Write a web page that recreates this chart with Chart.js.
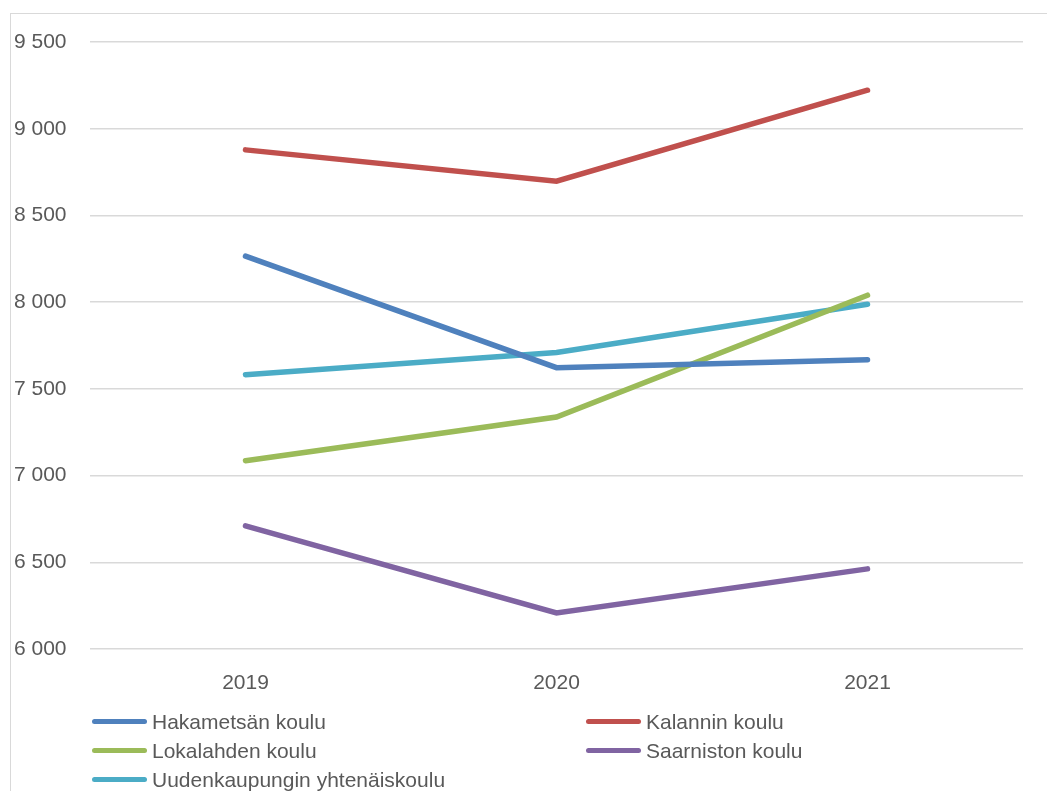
<!doctype html>
<html lang="fi">
<head>
    <meta charset="UTF-8">
    <title>Koulut 2019–2021</title>
    <script src="https://cdn.jsdelivr.net/npm/chart.js"></script>
    <style>
        html, body { margin: 0; padding: 0; background: #fff; overflow: hidden; }
        body { width: 1047px; height: 791px; position: relative; font-family: "Liberation Sans", Arial, sans-serif; }
        .kehys { position: absolute; left: 10px; top: 13px; width: 1100px; height: 900px; border: 1.5px solid #d9d9d9; box-sizing: border-box; }
        .graafi { position: absolute; left: 0; top: 0; width: 1047px; height: 791px; }
        #selite { position: absolute; left: 92px; top: 707px; display: grid; grid-template-columns: 494px auto; grid-auto-rows: 29px; }
        #selite div { display: flex; align-items: center; font-size: 21px; color: #595959; white-space: nowrap; }
        #selite span.viiva { display: inline-block; width: 55px; height: 5px; border-radius: 3px; margin-right: 5px; }
    </style>
</head>
<body>
    <div class="kehys"></div>
    <div class="graafi">
        <canvas id="grafiikka" width="1047" height="791"></canvas>
    </div>
    <div id="selite"></div>

    <script>
        const vuodet = ['2019', '2020', '2021'];

        const hakametsa = [8265, 7622, 7668];
        const kalanti = [8878, 8697, 9222];
        const lokalahti = [7086, 7338, 8040];
        const saarnisto = [6710, 6208, 6462];
        const uusikaupunki = [7582, 7710, 7988];

        const yTicks = [6000, 6500, 7000, 7500, 8000, 8500, 9000, 9500];

        const sarjat = [
            { label: 'Hakametsän koulu', data: hakametsa, color: '#4f81bd' },
            { label: 'Kalannin koulu', data: kalanti, color: '#c0504d' },
            { label: 'Lokalahden koulu', data: lokalahti, color: '#9bbb59' },
            { label: 'Saarniston koulu', data: saarnisto, color: '#8064a2' },
            { label: 'Uudenkaupungin yhtenäiskoulu', data: uusikaupunki, color: '#4bacc6' }
        ];

        const fmt = v => String(v).replace(/\B(?=(\d{3})+(?!\d))/g, ' ');

        const ctx = document.getElementById('grafiikka');

        let grafiikka = new Chart(ctx, {
            type: 'line',
            data: {
                labels: vuodet,
                datasets: sarjat.map(s => ({
                    label: s.label,
                    data: s.data,
                    borderColor: s.color,
                    backgroundColor: s.color,
                    borderWidth: 5.5,
                    borderCapStyle: 'round',
                    pointRadius: 0,
                    tension: 0,
                    fill: false
                }))
            },
            options: {
                responsive: false,
                animation: false,
                devicePixelRatio: 1,
                layout: {
                    padding: { left: 14, top: 42, right: 24, bottom: 0 }
                },
                plugins: {
                    legend: { display: false },
                    tooltip: { enabled: false }
                },
                scales: {
                    x: {
                        offset: true,
                        grid: { display: false, drawTicks: false },
                        border: { display: false },
                        ticks: {
                            color: '#595959',
                            padding: 22,
                            font: { family: '"Liberation Sans", Arial, sans-serif', size: 21 }
                        },
                        afterFit: scale => { scale.height = 142; }
                    },
                    y: {
                        min: 6000,
                        max: 9500,
                        afterBuildTicks: scale => { scale.ticks = yTicks.map(v => ({ value: v })); },
                        grid: { color: '#d9d9d9', lineWidth: 1.5, drawTicks: false },
                        border: { display: false },
                        ticks: {
                            color: '#595959',
                            crossAlign: 'far',
                            font: { family: '"Liberation Sans", Arial, sans-serif', size: 21 },
                            callback: v => fmt(v)
                        },
                        afterFit: scale => { scale.width = 76; }
                    }
                }
            }
        });

        // selite datasettien pohjalta
        const selite = document.getElementById('selite');
        grafiikka.data.datasets.forEach(ds => {
            const rivi = document.createElement('div');
            const viiva = document.createElement('span');
            viiva.className = 'viiva';
            viiva.style.background = ds.borderColor;
            rivi.appendChild(viiva);
            rivi.appendChild(document.createTextNode(ds.label));
            selite.appendChild(rivi);
        });
    </script>
</body>
</html>
